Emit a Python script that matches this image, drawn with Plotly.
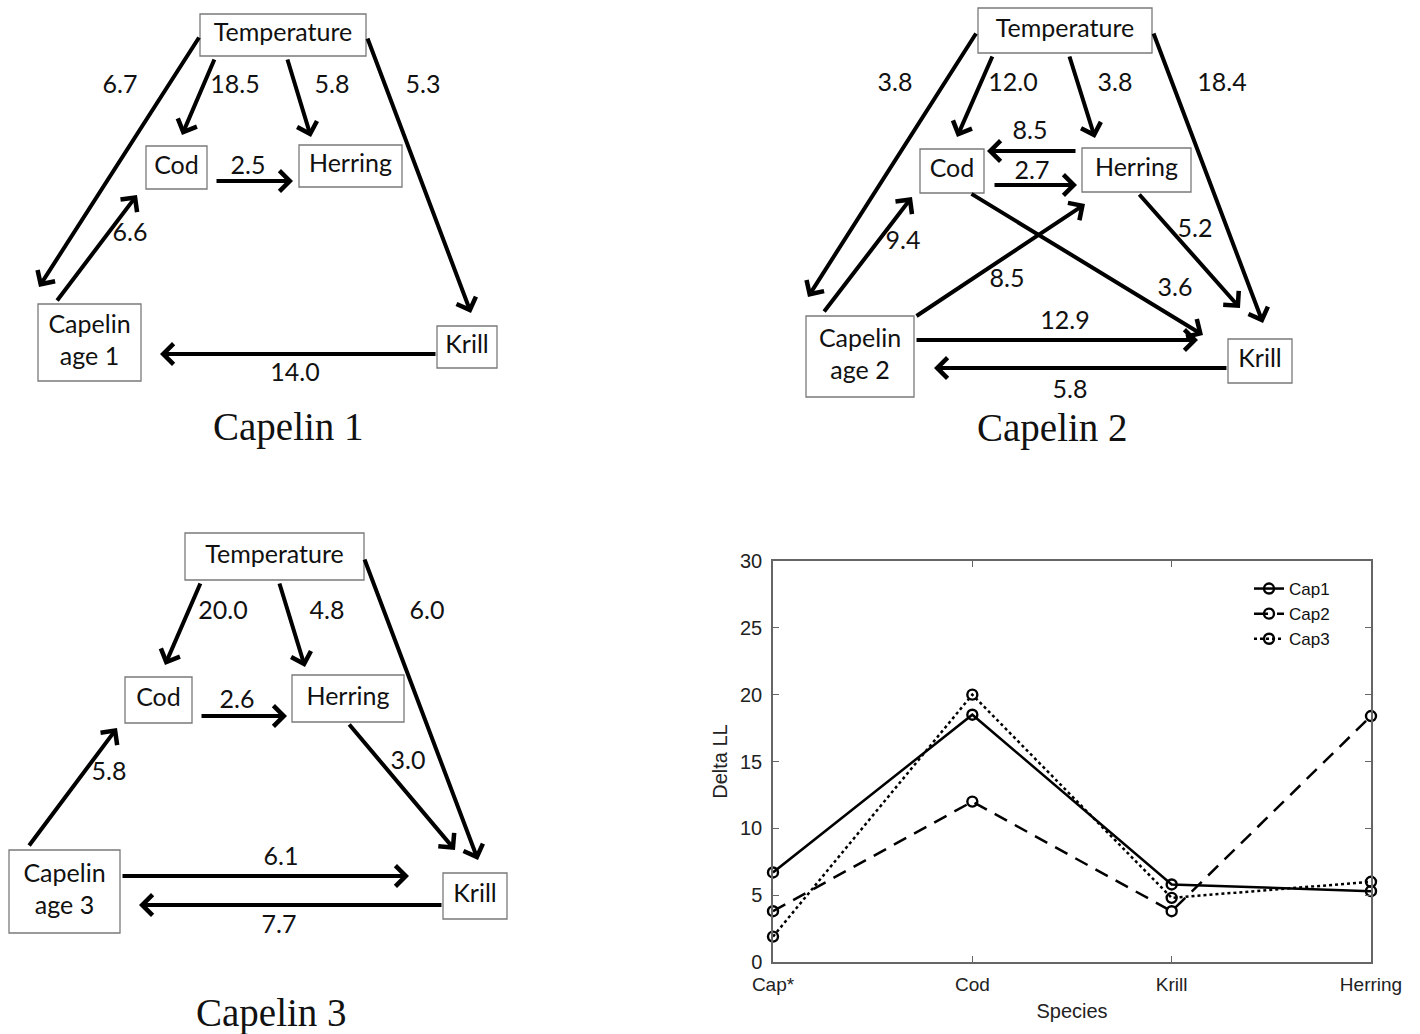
import plotly.graph_objects as go

# ================= DATA =================
# Line chart (bottom-right panel)
species = ["Cap*", "Cod", "Krill", "Herring"]
series_names = ["Cap1", "Cap2", "Cap3"]
cap1_delta_ll = [6.7, 18.5, 5.8, 5.3]
cap2_delta_ll = [3.8, 12.0, 3.8, 18.4]
cap3_delta_ll = [1.9, 20.0, 4.8, 6.0]
y_tick_values = [0, 5, 10, 15, 20, 25, 30]

# Network diagrams (edge values = delta log-likelihood)
diagram_titles = ["Capelin 1", "Capelin 2", "Capelin 3"]
node_names = ["Temperature", "Cod", "Herring", "Capelin", "Krill"]
capelin_age_labels = ["Capelin<br>age 1", "Capelin<br>age 2", "Capelin<br>age 3"]

cap1_edge_from = ["Temperature", "Capelin", "Temperature", "Temperature", "Temperature", "Cod", "Krill"]
cap1_edge_to = ["Capelin", "Cod", "Cod", "Herring", "Krill", "Herring", "Capelin"]
cap1_edge_values = [6.7, 6.6, 18.5, 5.8, 5.3, 2.5, 14.0]

cap2_edge_from = ["Temperature", "Capelin", "Temperature", "Temperature", "Temperature", "Herring",
                  "Cod", "Cod", "Herring", "Capelin", "Capelin", "Krill"]
cap2_edge_to = ["Capelin", "Cod", "Cod", "Herring", "Krill", "Cod",
                "Herring", "Krill", "Krill", "Herring", "Krill", "Capelin"]
cap2_edge_values = [3.8, 9.4, 12.0, 3.8, 18.4, 8.5, 2.7, 3.6, 5.2, 8.5, 12.9, 5.8]

cap3_edge_from = ["Temperature", "Temperature", "Temperature", "Cod", "Capelin", "Herring", "Capelin", "Krill"]
cap3_edge_to = ["Cod", "Herring", "Krill", "Herring", "Cod", "Krill", "Krill", "Capelin"]
cap3_edge_values = [20.0, 4.8, 6.0, 2.6, 5.8, 3.0, 6.1, 7.7]

# ================= LAYOUT GEOMETRY (diagram space, page pixels) =================
node_boxes = [
    {"Temperature": (200, 14, 366, 56), "Cod": (146, 146, 207, 189), "Herring": (299, 145, 402, 187),
     "Capelin": (38, 304, 141, 381), "Krill": (437, 326, 497, 368)},
    {"Temperature": (978, 8, 1152, 53), "Cod": (920, 149, 984, 193), "Herring": (1082, 148, 1191, 192),
     "Capelin": (806, 316, 914, 397), "Krill": (1228, 339, 1292, 383)},
    {"Temperature": (185, 533, 364, 580), "Cod": (125, 677, 192, 723), "Herring": (292, 675, 404, 722),
     "Capelin": (9, 850, 120, 933), "Krill": (443, 873, 507, 919)},
]
# (tail_x, tail_y, head_x, head_y, label_x, label_y), same order as edges
edge_paths = [
    [(200, 36, 39, 287, 120, 87), (56, 302, 137, 195, 130, 235), (215, 58, 182, 135, 235, 87),
     (287, 58, 311, 137, 332, 87), (367, 37, 471, 313, 423, 87), (215, 181, 293, 181, 248, 168),
     (437, 354, 160, 354, 295, 375)],
    [(977, 32, 808, 297, 895, 85), (823, 313, 912, 197, 903, 243), (993, 55, 957, 137, 1013, 85),
     (1069, 55, 1095, 138, 1115, 85), (1153, 32, 1263, 323, 1222, 85), (1077, 151, 987, 151, 1030, 133),
     (993, 185, 1077, 185, 1032, 173), (970, 193, 1203, 335, 1175, 290), (1138, 193, 1240, 308, 1195, 231),
     (915, 317, 1085, 204, 1007, 281), (915, 340, 1198, 340, 1065, 323), (1228, 368, 934, 368, 1070, 392)],
    [(201, 582, 165, 665, 223, 613), (279, 582, 305, 667, 327, 613), (364, 558, 478, 860, 427, 613),
     (200, 716, 287, 716, 237, 702), (28, 847, 117, 728, 109, 774), (348, 723, 455, 850, 408, 763),
     (121, 876, 409, 876, 281, 859), (443, 905, 139, 905, 279, 927)],
]
caption_positions = [(288, 427), (1052, 428), (271, 1013)]

W, H = 1420, 1034
DIAG_FONT = "Lato, 'Open Sans', sans-serif"
CAP_FONT = "'Liberation Serif', 'DejaVu Serif', serif"
CHART_FONT = "'Liberation Sans', Arial, sans-serif"

fig = go.Figure()

all_edges = [
    (cap1_edge_from, cap1_edge_to, cap1_edge_values),
    (cap2_edge_from, cap2_edge_to, cap2_edge_values),
    (cap3_edge_from, cap3_edge_to, cap3_edge_values),
]

shapes = []
annotations = []
text_x, text_y, text_s = [], [], []

for d in range(3):
    boxes = node_boxes[d]
    for name in node_names:
        x0, y0, x1, y1 = boxes[name]
        shapes.append(dict(type="rect", xref="x", yref="y", x0=x0, y0=y0, x1=x1, y1=y1,
                           line=dict(color="#7a7a7a", width=1.3), fillcolor="rgba(0,0,0,0)", layer="above"))
        text_x.append((x0 + x1) / 2)
        text_y.append((y0 + y1) / 2)
        text_s.append(capelin_age_labels[d] if name == "Capelin" else name)
    efrom, eto, evals = all_edges[d]
    for i, v in enumerate(evals):
        tx, ty, hx, hy, lx, ly = edge_paths[d][i]
        annotations.append(dict(x=hx, y=hy, ax=tx, ay=ty, xref="x", yref="y", axref="x", ayref="y",
                                text="", showarrow=True, arrowhead=4, arrowsize=1, arrowwidth=4,
                                arrowcolor="black", standoff=0, startstandoff=0))
        text_x.append(lx)
        text_y.append(ly)
        text_s.append(f"{v:.1f}")
    cx, cy = caption_positions[d]
    annotations.append(dict(x=cx, y=cy, xref="x", yref="y", text=diagram_titles[d], showarrow=False,
                            font=dict(family=CAP_FONT, size=39, color="#111")))

fig.add_trace(go.Scatter(x=text_x, y=text_y, text=text_s, mode="text", showlegend=False,
                         textfont=dict(family=DIAG_FONT, size=25, color="#111"),
                         hoverinfo="skip", xaxis="x", yaxis="y"))

# ---------- Line chart ----------
xs = list(range(1, len(species) + 1))
styles = [("solid", cap1_delta_ll), ("14px,9px", cap2_delta_ll), ("3px,3px", cap3_delta_ll)]
for name, (dash, vals) in zip(series_names, styles):
    fig.add_trace(go.Scatter(x=xs, y=vals, name=name, mode="lines+markers", cliponaxis=False,
                             line=dict(color="black", width=2.5, dash=dash),
                             marker=dict(symbol="circle-open", size=10, color="black", line=dict(width=2.4)),
                             xaxis="x2", yaxis="y2"))

axis_common = dict(showline=True, linecolor="#666", linewidth=1.5, mirror="ticks", ticks="inside",
                   ticklen=6, tickcolor="#666", showgrid=False, zeroline=False, automargin=False)

fig.update_layout(
    width=W, height=H, margin=dict(l=0, r=0, t=0, b=0, autoexpand=False),
    paper_bgcolor="white", plot_bgcolor="rgba(0,0,0,0)",
    shapes=shapes, annotations=annotations,
    xaxis=dict(domain=[0, 1], range=[0, W], visible=False, fixedrange=True, automargin=False),
    yaxis=dict(domain=[0, 1], range=[H, 0], visible=False, fixedrange=True, automargin=False),
    xaxis2=dict(domain=[773 / W, 1371 / W], anchor="y2", range=[1, 4], tickvals=xs, ticktext=species,
                tickfont=dict(family=CHART_FONT, size=19, color="#222"), ticklabelstandoff=4,
                title=dict(text="Species", font=dict(family=CHART_FONT, size=20, color="#222"), standoff=10),
                **axis_common),
    yaxis2=dict(domain=[1 - 962 / H, 1 - 561 / H], anchor="x2", range=[0, 30], tickvals=y_tick_values,
                tickfont=dict(family=CHART_FONT, size=20, color="#222"), ticklabelstandoff=5,
                title=dict(text="Delta LL", font=dict(family=CHART_FONT, size=20, color="#222"), standoff=7),
                **axis_common),
    legend=dict(x=1249 / W, y=1 - 571 / H, xanchor="left", yanchor="top", bgcolor="rgba(0,0,0,0)",
                font=dict(family=CHART_FONT, size=17, color="#111"), tracegroupgap=0, itemwidth=30),
    showlegend=True,
)

fig.write_html("out.html", config={"displayModeBar": False},
               post_script="document.body.style.margin='0';document.body.style.overflow='hidden';")
